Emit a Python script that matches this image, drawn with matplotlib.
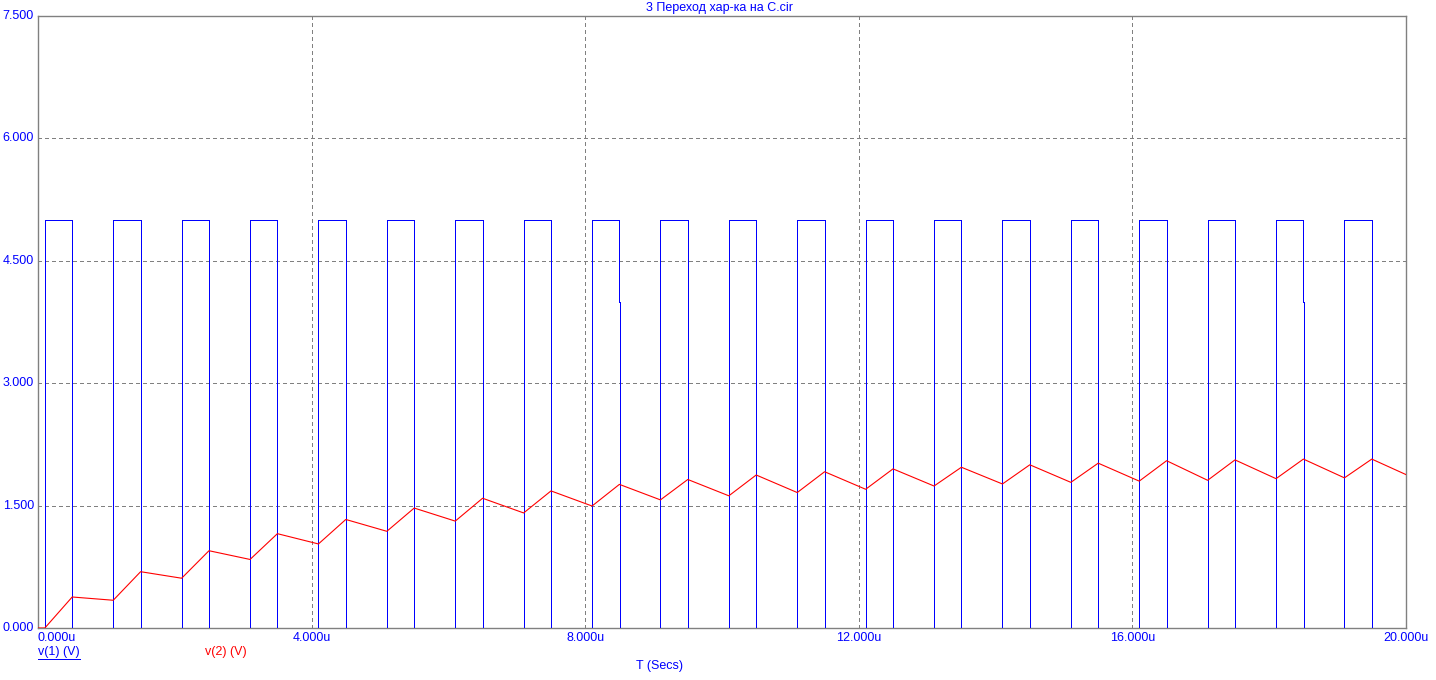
import matplotlib
matplotlib.use("Agg")
import matplotlib.pyplot as plt
from matplotlib.lines import Line2D

# pulse source v(1): switching instants in microseconds
pulse_on = [0.1, 1.1, 2.1, 3.1, 4.1, 5.1, 6.1, 7.1, 8.1, 9.1,
            10.1, 11.1, 12.1, 13.1, 14.1, 15.1, 16.1, 17.1, 18.1, 19.1]
pulse_off = [0.5, 1.5, 2.5, 3.5, 4.5, 5.5, 6.5, 7.5, 8.5, 9.5,
             10.5, 11.5, 12.5, 13.5, 14.5, 15.5, 16.5, 17.5, 18.5, 19.5]
pulse_high = 5.0
# falling edges with a small step (time step artefact)
glitch_t = [8.5, 18.5]
glitch_v = 4.0
glitch_dt = 0.015

# capacitor voltage v(2)
peak_v = [0.38, 0.69, 0.947, 1.156, 1.33, 1.47, 1.59, 1.68, 1.76, 1.82,
          1.875, 1.915, 1.95, 1.97, 2.0, 2.02, 2.05, 2.06, 2.07, 2.07]
trough_v = [0.34, 0.61, 0.84, 1.03, 1.185, 1.31, 1.41, 1.495, 1.57, 1.62,
            1.66, 1.70, 1.74, 1.765, 1.785, 1.80, 1.81, 1.83, 1.84]
end_t, end_v = 20.0, 1.88

x_ticks = [0, 4, 8, 12, 16, 20]
x_labels = ["0.000u", "4.000u", "8.000u", "12.000u", "16.000u", "20.000u"]
y_ticks = [0, 1.5, 3, 4.5, 6, 7.5]
y_labels = ["0.000", "1.500", "3.000", "4.500", "6.000", "7.500"]

BLUE = "#0000FF"
RED = "#FF0000"
GRAY = "#808080"
PX = 0.72  # one pixel in points at dpi 100

plt.rcParams["font.family"] = ["Liberation Sans", "DejaVu Sans"]

# build v(1) step trace
t1, v1 = [0.0], [0.0]
for on, off in zip(pulse_on, pulse_off):
    t1 += [on, on]
    v1 += [0.0, pulse_high]
    if off in glitch_t:
        t1 += [off, off, off + glitch_dt, off + glitch_dt]
        v1 += [pulse_high, glitch_v, glitch_v, 0.0]
    else:
        t1 += [off, off]
        v1 += [pulse_high, 0.0]
t1.append(20.0)
v1.append(0.0)

# build v(2) trace
t2, v2 = [0.0, pulse_on[0]], [0.0, 0.0]
for i, off in enumerate(pulse_off):
    t2.append(off)
    v2.append(peak_v[i])
    if i < len(trough_v):
        t2.append(pulse_on[i + 1])
        v2.append(trough_v[i])
t2.append(end_t)
v2.append(end_v)

W, H = 1436, 680
fig = plt.figure(figsize=(W / 100, H / 100), dpi=100)
ax = fig.add_axes([38 / W, (H - 628) / H, 1368 / W, 612 / H])

ax.plot(t1, v1, color=BLUE, lw=PX, antialiased=False, zorder=3)
ax.plot(t2, v2, color=RED, lw=0.8, zorder=4)

ax.set_xlim(0, 20)
ax.set_ylim(0, 7.5)
ax.set_xticks(x_ticks)
ax.set_yticks(y_ticks)
ax.set_xticklabels([])
ax.set_yticklabels([])
ax.tick_params(length=0)

for sp in ax.spines.values():
    sp.set_color(GRAY)
    sp.set_linewidth(1.0)

for x in x_ticks[1:-1]:
    ax.axvline(x, color=GRAY, lw=PX, linestyle=(0, (4, 4)),
               antialiased=False, zorder=1)
for y in y_ticks[1:-1]:
    ax.axhline(y, color=GRAY, lw=PX, linestyle=(0, (4, 4)),
               antialiased=False, zorder=1)

fs = 9
for y, lab in zip(y_ticks, y_labels):
    ax.text(-4 / 68.4, y, lab, color=BLUE, fontsize=fs, ha="right", va="center",
            transform=ax.transData, clip_on=False)
for i, (x, lab) in enumerate(zip(x_ticks, x_labels)):
    ax.text(x, -10 / 81.6, lab, color=BLUE, fontsize=fs,
            ha="left" if i == 0 else "center", va="center", clip_on=False)

fig.text(720 / W, 1 - 8 / H, "3 Переход хар-ка на C.cir", color=BLUE,
         fontsize=fs, ha="center", va="center")
fig.text(660 / W, 1 - 666 / H, "T (Secs)", color=BLUE, fontsize=fs,
         ha="center", va="center")
leg1 = fig.text(38 / W, 1 - 652 / H, "v(1) (V)", color=BLUE, fontsize=fs,
                ha="left", va="center")
fig.text(205 / W, 1 - 652 / H, "v(2) (V)", color=RED, fontsize=fs,
         ha="left", va="center")

# underline for the first trace label
fig.canvas.draw()
bb = leg1.get_window_extent(fig.canvas.get_renderer())
fig.add_artist(Line2D([bb.x0 / W, bb.x1 / W], [(H - 658.5) / H, (H - 658.5) / H],
                      color=BLUE, lw=PX, antialiased=False))

fig.savefig("out.png", dpi=100, facecolor="white")
